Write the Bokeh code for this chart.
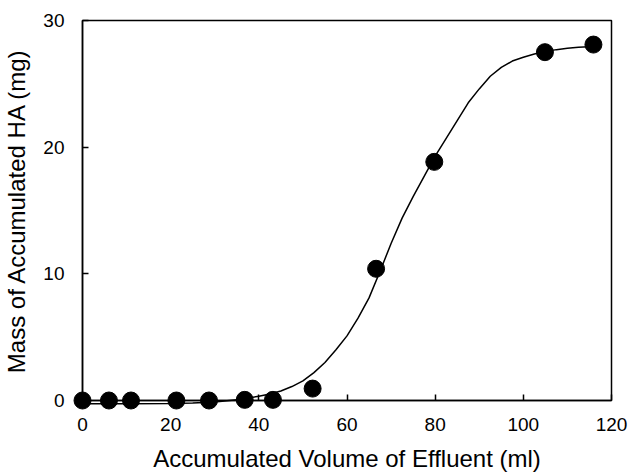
from bokeh.plotting import figure
from bokeh.models import Range1d, FixedTicker
from bokeh.embed import file_html
from bokeh.resources import INLINE

# measured data points
volume = [0, 6, 11, 21.3, 28.7, 36.8, 43.2, 52.2, 66.6, 79.8, 104.9, 115.9]
mass = [0, 0, 0, 0, 0, 0.05, 0.05, 0.94, 10.4, 18.84, 27.5, 28.1]

# fitted curve
curve_x = [0, 10, 20, 25, 30, 35, 40, 42.5, 45, 47.5, 50, 52.5, 55, 57.5, 60, 62.5,
           65, 67.5, 70, 72.5, 75, 77.5, 80, 82.5, 85, 87.5, 90, 92.5, 95, 97.5,
           100, 102.5, 105, 107.5, 110, 112.5, 116]
curve_y = [-0.25, -0.25, -0.24, -0.2, -0.12, 0.05, 0.33, 0.52, 0.75, 1.1, 1.55, 2.2,
           3.0, 4.0, 5.1, 6.5, 8.1, 10.2, 12.4, 14.4, 16.1, 17.7, 19.3, 20.7, 22.1,
           23.5, 24.6, 25.6, 26.3, 26.8, 27.1, 27.35, 27.55, 27.7, 27.8, 27.88, 27.95]

x_ticks = [0, 20, 40, 60, 80, 100, 120]
y_ticks = [0, 10, 20, 30]

FONT = "Liberation Sans"

p = figure(width=630, height=474, output_backend="svg", toolbar_location=None,
           x_range=Range1d(0, 120), y_range=Range1d(0, 30),
           min_border_left=82, min_border_right=19, min_border_top=20, min_border_bottom=73)

p.xgrid.visible = False
p.ygrid.visible = False
p.background_fill_color = "white"
p.border_fill_color = "white"
p.outline_line_color = "black"
p.outline_line_width = 1.5
p.outline_line_alpha = 1.0

for ax in (p.xaxis[0], p.yaxis[0]):
    ax.axis_line_color = "black"
    ax.axis_line_width = 1.5
    ax.major_tick_line_color = "black"
    ax.major_tick_line_width = 1.5
    ax.major_tick_in = 6
    ax.major_tick_out = 0
    ax.minor_tick_line_color = None
    ax.major_label_text_font = FONT
    ax.major_label_text_font_size = "19px"
    ax.major_label_text_color = "black"
    ax.axis_label_text_font = FONT
    ax.axis_label_text_font_size = "24px"
    ax.axis_label_text_font_style = "normal"
    ax.axis_label_text_color = "black"

p.xaxis[0].ticker = FixedTicker(ticks=x_ticks)
p.yaxis[0].ticker = FixedTicker(ticks=y_ticks)
p.xaxis[0].major_label_standoff = 17
p.yaxis[0].major_label_standoff = 18
p.xaxis[0].axis_label = "Accumulated Volume of Effluent (ml)"
p.yaxis[0].axis_label = "Mass of Accumulated HA (mg)"
p.xaxis[0].axis_label_standoff = 11
p.yaxis[0].axis_label_standoff = 10

line = p.line(curve_x, curve_y, line_color="black", line_width=1.5)
line.level = "overlay"
pts = p.scatter(volume, mass, size=17, fill_color="black", line_color="black")
pts.level = "overlay"

open("out.html", "w").write(file_html(p, INLINE))
